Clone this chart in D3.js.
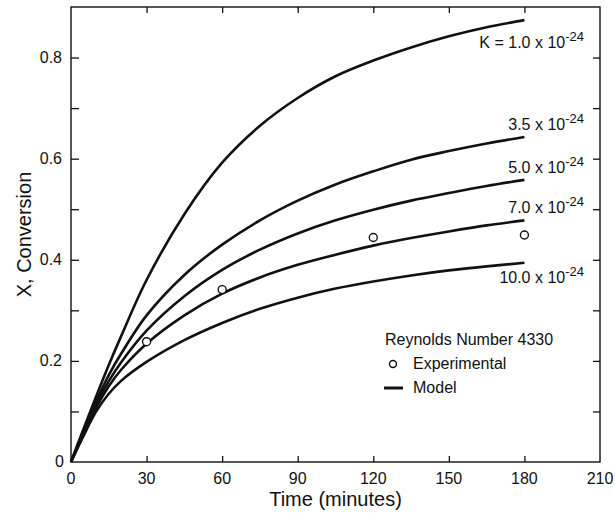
<!DOCTYPE html>
<html><head><meta charset="utf-8">
<script src="https://cdn.jsdelivr.net/npm/d3@7/dist/d3.min.js"></script>
<style>body{margin:0;background:#fff}svg{display:block}text{font-family:"Liberation Sans",Arial,sans-serif;fill:#111}</style>
</head><body><svg id="c" width="615" height="519"></svg>
<script>
const times = [0,5,10,15,20,30,45,60,75,90,105,120,135,150,165,180];
const k10  = [0,0.066,0.13,0.192,0.25,0.36,0.49,0.592,0.665,0.72,0.763,0.794,0.82,0.842,0.86,0.874];
const k35  = [0,0.061,0.12,0.172,0.215,0.29,0.37,0.43,0.478,0.517,0.549,0.575,0.598,0.615,0.630,0.643];
const k50  = [0,0.058,0.114,0.16,0.198,0.26,0.328,0.38,0.42,0.452,0.478,0.499,0.517,0.532,0.546,0.558];
const k70  = [0,0.055,0.108,0.15,0.183,0.234,0.29,0.333,0.365,0.39,0.41,0.428,0.443,0.456,0.468,0.478];
const k100 = [0,0.052,0.10,0.135,0.161,0.198,0.241,0.275,0.303,0.325,0.343,0.357,0.369,0.379,0.387,0.394];
const seriesMant = ["K = 1.0 x 10","3.5 x 10","5.0 x 10","7.0 x 10","10.0 x 10"];
const seriesExp = "-24";
const expTime = [30,60,120,180];
const expX = [0.238,0.341,0.444,0.449];
const xTicks = [0,30,60,90,120,150,180,210];
const yTicksMajor = [0,0.2,0.4,0.6,0.8];
const yTicksAll = [0.1,0.2,0.3,0.4,0.5,0.6,0.7,0.8];

const svg = d3.select("#c");
const L=71, R=600, T=7, B=462;
const x = d3.scaleLinear().domain([0,210]).range([L,R]);
const y = d3.scaleLinear().domain([0,0.9]).range([B,T]);

svg.append("rect").attr("x",L).attr("y",T).attr("width",R-L).attr("height",B-T)
  .attr("fill","none").attr("stroke","#111").attr("stroke-width",1.4);

function styleAxis(g){ g.select(".domain").remove(); g.selectAll("line").attr("stroke","#111").attr("stroke-width",1.3); }
svg.append("g").attr("transform",`translate(${L},0)`)
  .call(d3.axisRight(y).tickValues(yTicksAll).tickSize(8).tickFormat("")).call(styleAxis);
svg.append("g").selectAll("text").data(yTicksMajor).join("text")
  .attr("x",d=>d===0?64:62).attr("y",d=>y(d)+5).attr("text-anchor","end")
  .attr("font-size",16).text(d=>d===0?"0":d3.format(".1f")(d));
svg.append("g").attr("transform",`translate(${R},0)`)
  .call(d3.axisLeft(y).tickValues(yTicksAll).tickSize(7).tickFormat("")).call(styleAxis);
svg.append("g").attr("transform",`translate(0,${B})`)
  .call(d3.axisTop(x).tickValues(xTicks.slice(1,-1)).tickSize(6).tickFormat("")).call(styleAxis);
svg.append("g").attr("transform",`translate(0,${T})`)
  .call(d3.axisBottom(x).tickValues(xTicks.slice(1,-1)).tickSize(6).tickFormat("")).call(styleAxis);
svg.append("g").selectAll("text").data(xTicks).join("text")
  .attr("x",d=>x(d)).attr("y",B+22).attr("text-anchor","middle")
  .attr("font-size",16).text(d=>d);

svg.append("text").attr("x",(L+R)/2).attr("y",506).attr("text-anchor","middle")
  .attr("font-size",20).text("Time (minutes)");
svg.append("text").attr("transform",`translate(31,${(T+B)/2}) rotate(-90)`)
  .attr("text-anchor","middle").attr("font-size",20).text("X, Conversion");

const series = [k10,k35,k50,k70,k100];
const line = d3.line().x((d,i)=>x(times[i])).y(d=>y(d)).curve(d3.curveCatmullRom.alpha(0.5));
svg.append("g").selectAll("path").data(series).join("path")
  .attr("d",d=>line(d)).attr("fill","none").attr("stroke","#111")
  .attr("stroke-width",2.6).attr("stroke-linejoin","round");

const labOff = [28,-7,-7,-7,20];
const lg = svg.append("g");
series.forEach((s,i)=>{
  const t = lg.append("text").attr("x",584).attr("y",y(s[s.length-1])+labOff[i])
    .attr("text-anchor","end").attr("font-size",16);
  t.append("tspan").text(seriesMant[i]);
  t.append("tspan").attr("dy",-7).attr("font-size",13).text(seriesExp);
});

svg.append("g").selectAll("circle").data(expTime).join("circle")
  .attr("cx",d=>x(d)).attr("cy",(d,i)=>y(expX[i])).attr("r",4)
  .attr("fill","#fff").attr("stroke","#111").attr("stroke-width",1.4);

svg.append("text").attr("x",385).attr("y",345).attr("font-size",16).text("Reynolds Number 4330");
svg.append("circle").attr("cx",393).attr("cy",364).attr("r",3.5).attr("fill","none").attr("stroke","#111").attr("stroke-width",1.4);
svg.append("text").attr("x",413).attr("y",369).attr("font-size",16).text("Experimental");
svg.append("line").attr("x1",384).attr("x2",403).attr("y1",388).attr("y2",388).attr("stroke","#111").attr("stroke-width",3);
svg.append("text").attr("x",413).attr("y",393).attr("font-size",16).text("Model");
</script></body></html>
